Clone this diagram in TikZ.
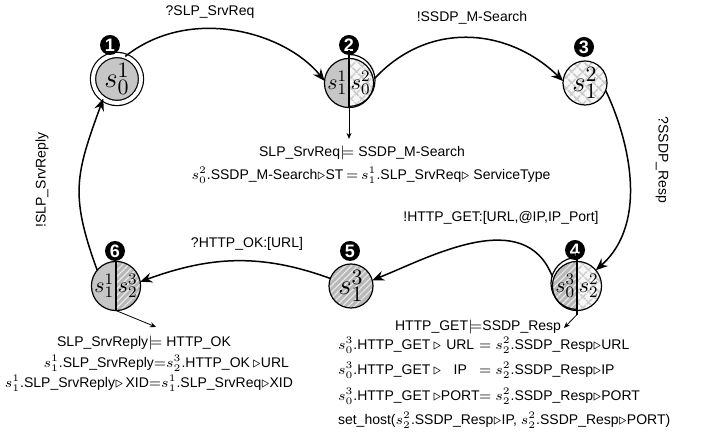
\documentclass[tikz,border=0pt]{standalone}
\usepackage[no-math]{fontspec}
\setmainfont{Liberation Sans}
\usetikzlibrary{arrows.meta,patterns.meta}
\tikzset{
  state/.style={circle,draw,line width=.6pt,minimum size=22pt,inner sep=0pt,outer sep=0pt},
  num/.style={circle,fill=black,text=white,inner sep=0pt,minimum size=10pt,font=\fontsize{9}{9}\selectfont\bfseries},
  edge/.style={line width=.75pt,-{Stealth[length=6pt,width=5pt,inset=2pt]}},
  note/.style={line width=.4pt,-{Stealth[length=3pt,width=2.5pt]}},
  grayfill/.style={fill=gray!45},
  crossfill/.style={fill=gray!6,
    postaction={pattern={Lines[angle=45,distance=4pt,line width=1pt]},pattern color=gray!40},
    postaction={pattern={Lines[angle=-45,distance=4pt,line width=1pt]},pattern color=gray!40}},
  stripefill/.style={fill=gray!55,
    postaction={pattern={Lines[angle=45,distance=2.2pt,line width=.5pt]},pattern color=white!85!gray}},
  full/.style={path picture={\path[#1] (path picture bounding box.south west) rectangle (path picture bounding box.north east);}},
  half/.style 2 args={path picture={
    \path[#1] (path picture bounding box.south west) rectangle (path picture bounding box.north);
    \path[#2] (path picture bounding box.south) rectangle (path picture bounding box.north east);}}
}
\newcommand{\bigst}[1]{\fontsize{15}{15}\selectfont$#1$}
\newcommand{\halfst}[2]{\fontsize{11}{11}\selectfont$#1\,#2$}
\begin{document}
\begin{tikzpicture}[x=.5pt,y=.5pt,every node/.style={font=\fontsize{7}{8.5}\selectfont}]
\useasboundingbox (0,0) rectangle (702,437);
% states
\node[state,double,double distance=2pt,minimum size=24pt,full=grayfill] (s1) at (117,358) {\bigst{s^1_0}};
\node[state,half={grayfill}{crossfill}] (s2) at (349,354) {\halfst{s^1_1}{s^2_0}};
\node[state,full=crossfill] (s3) at (585,354) {\bigst{s^2_1}};
\node[state,half={stripefill}{crossfill}] (s4) at (577,151) {\halfst{s^3_0}{s^2_2}};
\node[state,full=stripefill] (s5) at (351,151) {\bigst{s^3_1}};
\node[state,half={grayfill}{stripefill}] (s6) at (116,151) {\halfst{s^1_1}{s^3_2}};
\node[num] (n1) at (110,392) {1};
\node[num] (n2) at (349,392) {2};
\node[num] (n3) at (584,390) {3};
\node[num] (n4) at (575,187) {4};
\node[num] (n5) at (350,186) {5};
\node[num] (n6) at (115,186) {6};
% dividers and half rings
\draw[line width=.6pt] ([yshift=4pt]s2.north) -- (s2.south);
\draw[line width=.6pt] ([yshift=2pt]s2.north) arc (90:-90:13pt);
\draw[line width=.6pt] ([yshift=4pt]s4.north) -- ([yshift=-2pt]s4.south);
\draw[line width=.6pt] ([yshift=2pt]s4.north) arc (90:270:13pt);
\draw[line width=.6pt] (s6.north) -- (s6.south);
% transitions
\draw[edge] (s1.70) .. controls (190,432) and (285,405) .. (s2.175);
\draw[edge] ([shift={(10:13pt)}]s2.center) .. controls (430,418) and (510,408) .. (s3.175);
\draw[edge] (s3.-20) .. controls (628,300) and (650,215) .. (s4.40);
\draw[edge] ([shift={(160:13pt)}]s4.center) .. controls (525,232) and (430,180) .. (s5.15);
\draw[edge] (s5.160) to[out=160,in=20] (s6.10);
\draw[edge] (s6.140) to[out=110,in=-110,looseness=1.2] (s1.235);
\node (l12) at (210,425) {?SLP\_SrvReq};
\node (l23) at (472,419) {!SSDP\_M-Search};
\node[rotate=-90] (l34) at (662,277) {?SSDP\_Resp};
\node (l45) at (501,219) {!HTTP\_GET:[URL,@IP,IP\_Port]};
\node (l56) at (247,193) {?HTTP\_OK:[URL]};
\node[rotate=90] (l61) at (42,257) {!SLP\_SrvReply};
% conditions
\node (t2a) at (362,284) {SLP\_SrvReq$\models$ SSDP\_M-Search};
\node (t2b) at (371,262) {$s^2_0$.SSDP\_M-Search$\triangleright$ST$\,=\,$$s^1_1$.SLP\_SrvReq$\triangleright$ ServiceType};
\draw[note] (s2.south) -- (s2 |- t2a.north);
\node[anchor=east] (t6a) at (238,94) {SLP\_SrvReply$\models$ HTTP\_OK};
\node[anchor=east] (t6b) at (296,74) {$s^1_1$.SLP\_SrvReply$=$$s^3_2$.HTTP\_OK$\,\triangleright$URL};
\node[anchor=east] (t6c) at (300,54) {$s^1_1$.SLP\_SrvReply$\triangleright$\,XID$=$$s^1_1$.SLP\_SrvReq$\triangleright$XID};
\coordinate (a6) at (156,110);
\draw[note] (s6.south) -- (a6);
\node (t4a) at (478,110) {HTTP\_GET$\models$SSDP\_Resp};
\node[anchor=west] (t4b) at (331,92) {$s^3_0$.HTTP\_GET$\,\triangleright$\makebox[2.7em]{URL}$=$ $s^2_2$.SSDP\_Resp$\triangleright$URL};
\node[anchor=west] (t4c) at (331,67) {$s^3_0$.HTTP\_GET$\,\triangleright$\makebox[2.7em]{IP}$=$ $s^2_2$.SSDP\_Resp$\triangleright$IP};
\node[anchor=west] (t4d) at (331,41) {$s^3_0$.HTTP\_GET$\,\triangleright$\makebox[2.7em]{PORT}$=$ $s^2_2$.SSDP\_Resp$\triangleright$PORT};
\node[anchor=west] (t4e) at (331,17) {set\_host($s^2_2$.SSDP\_Resp$\triangleright$IP, $s^2_2$.SSDP\_Resp$\triangleright$PORT)};
\coordinate (a4) at (564,109);
\draw[note] ([yshift=-2pt]s4.south) -- (a4);
\end{tikzpicture}
\end{document}
